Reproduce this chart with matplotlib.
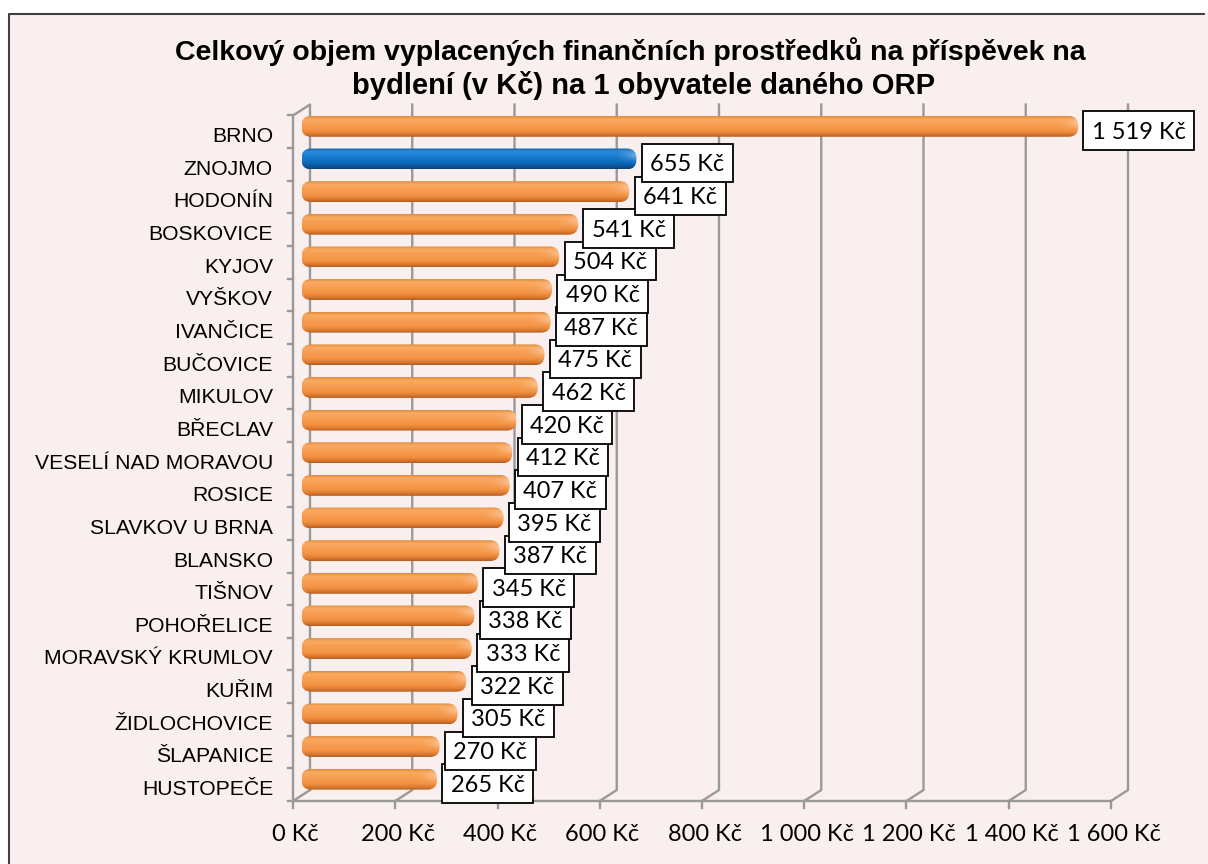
import numpy as np
import matplotlib
matplotlib.use("Agg")
import matplotlib.pyplot as plt
from matplotlib.patches import FancyBboxPatch, Rectangle
from matplotlib.lines import Line2D
from matplotlib.path import Path
from matplotlib.colors import LinearSegmentedColormap

# data
categories = ["BRNO", "ZNOJMO", "HODONÍN", "BOSKOVICE", "KYJOV", "VYŠKOV",
              "IVANČICE", "BUČOVICE", "MIKULOV", "BŘECLAV", "VESELÍ NAD MORAVOU",
              "ROSICE", "SLAVKOV U BRNA", "BLANSKO", "TIŠNOV", "POHOŘELICE",
              "MORAVSKÝ KRUMLOV", "KUŘIM", "ŽIDLOCHOVICE", "ŠLAPANICE", "HUSTOPEČE"]
values = [1519, 655, 641, 541, 504, 490, 487, 475, 462, 420, 412,
          407, 395, 387, 345, 338, 333, 322, 305, 270, 265]
highlight = "ZNOJMO"
x_ticks = [0, 200, 400, 600, 800, 1000, 1200, 1400, 1600]
x_tick_labels = ["0 Kč", "200 Kč", "400 Kč", "600 Kč", "800 Kč", "1 000 Kč",
                 "1 200 Kč", "1 400 Kč", "1 600 Kč"]
title_1 = "Celkový objem vyplacených finančních prostředků na příspěvek na"
title_2 = "bydlení (v Kč) na 1 obyvatele daného ORP"

W, H = 1208, 864
bg = "#f9efee"
grid_c = "#999999"

fig = plt.figure(figsize=(W / 100, H / 100), dpi=100)
fig.patch.set_facecolor("white")
fig.patch.set_edgecolor("none")

# chart area (runs off the right and bottom edge), border only left + top
fx, fy = 8.5 / W, 1 - 13.5 / H
fig.add_artist(Rectangle((fx, -0.1), 1.2, fy + 0.1, transform=fig.transFigure,
                         fc=bg, ec="none", zorder=0))
fig.add_artist(Line2D([fx, fx, 1.1], [-0.1, fy, fy], transform=fig.transFigure,
                      color="#404040", lw=1.5, zorder=0.5))
fig.add_artist(Line2D([1 - 1.5 / W] * 2, [-0.1, fy - 1.5 / H], transform=fig.transFigure,
                      color=bg, lw=3, zorder=0.6))

# axes = middle depth plane of the 3D plot
ax_l, ax_top, ax_w, ax_h = 301.5, 110, 818, 685.5
ax = fig.add_axes([ax_l / W, 1 - (ax_top + ax_h) / H, ax_w / W, ax_h / H])
ax.set_facecolor("none")
ax.set_axis_off()

n = len(categories)
y = np.arange(n)
xmax = x_ticks[-1]
ax.set_xlim(0, xmax)
ax.set_ylim(n - 0.5, -0.5)

# 3D depth offset (pixels) -> data units
ppx = ax_w / xmax
ppy = ax_h / n
dxd = 8.5 / ppx
dyd = 5.5 / ppy
ybot, ytop = n - 0.5, -0.5
lw = 1.7

# back wall gridlines with floor diagonals
for v in x_ticks[1:]:
    ax.plot([v - dxd, v + dxd, v + dxd], [ybot + dyd, ybot - dyd, ytop - dyd],
            color=grid_c, lw=lw, clip_on=False, zorder=1)
# left wall + floor front edge
ax.plot([dxd, dxd, -dxd, -dxd, xmax - dxd],
        [ybot - dyd, ytop - dyd, ytop + dyd, ybot + dyd, ybot + dyd],
        color=grid_c, lw=lw, clip_on=False, zorder=1)
ax.plot([-dxd, dxd], [ybot + dyd, ybot - dyd], color=grid_c, lw=lw,
        clip_on=False, zorder=1)
# tick marks on the front plane
for k in range(n + 1):
    ax.plot([-dxd - 5 / ppx, -dxd], [k - 0.5 + dyd] * 2, color=grid_c, lw=lw,
            clip_on=False, zorder=1)
for v in x_ticks:
    ax.plot([v - dxd] * 2, [ybot + dyd, ybot + dyd + 7 / ppy], color=grid_c,
            lw=lw, clip_on=False, zorder=1)

# cylinder-like bars: rounded patch filled with a vertical gradient
orange = LinearSegmentedColormap.from_list("o", [
    (0, "#e08a3c"), (0.15, "#faab63"), (0.35, "#f8a055"), (0.7, "#f39242"),
    (0.88, "#db782e"), (1, "#b05e22")])
blue = LinearSegmentedColormap.from_list("b", [
    (0, "#135fa6"), (0.15, "#2a8adc"), (0.35, "#1b7fd2"), (0.7, "#0b6bbb"),
    (0.9, "#0a5394"), (1, "#084276")])
grad = np.linspace(0, 1, 64).reshape(-1, 1)

# soft light spot on the rounded end of each cylinder
gy = np.linspace(-1, 1, 32).reshape(-1, 1)
gx = np.linspace(0, 1, 32).reshape(1, -1)
spot = np.zeros((32, 32, 4))
spot[..., :3] = 1.0
spot[..., 3] = 0.35 * np.clip(gx, 0, 1) ** 1.5 * np.exp(-((gy + 0.3) / 0.45) ** 2)

bars = ax.barh(y, values, height=0.64, color="none", edgecolor="none", zorder=2)
r_px = 9.5
rx = r_px / ppx
ma = (r_px / ppy) / rx
for cat, rect in zip(categories, bars):
    x0, y0, w, h = rect.get_x(), rect.get_y(), rect.get_width(), rect.get_height()
    patch = FancyBboxPatch((x0, y0), w, h,
                           boxstyle=f"round,pad=0,rounding_size={rx}",
                           mutation_aspect=ma, fc="none", ec="none", zorder=3)
    ax.add_patch(patch)
    cmap = blue if cat == highlight else orange
    im = ax.imshow(grad, cmap=cmap, extent=(x0, x0 + w, y0 + h, y0),
                   origin="upper", aspect="auto", interpolation="bicubic",
                   zorder=3)
    im.set_clip_path(patch)
    hl = ax.imshow(spot, extent=(x0 + w - 22 / ppx, x0 + w, y0 + h, y0),
                   origin="upper", aspect="auto", interpolation="bicubic",
                   zorder=3.1)
    hl.set_clip_path(patch)

ax.set_xlim(0, xmax)
ax.set_ylim(n - 0.5, -0.5)


def label_box(x0, y0, width, height, mutation_size):
    # pixels: narrower sides, box nudged up so the digits sit centred
    px, pt, pb = 8.5, 10.5, 7.0
    return Path([(x0 - px, y0 - pb), (x0 + width + px, y0 - pb),
                 (x0 + width + px, y0 + height + pt), (x0 - px, y0 + height + pt),
                 (x0 - px, y0 - pb)], closed=True)


# data labels
for i, v in enumerate(values):
    lab = f"{v:,}".replace(",", " ") + " Kč"
    ax.annotate(lab, xy=(v, i), xytext=(10, -4.3), textcoords="offset points",
                ha="left", va="center", fontsize=17, family="Lato",
                bbox=dict(boxstyle=label_box, fc="white", ec="black", lw=1.3),
                zorder=10 + (n - i) * 0.01, annotation_clip=False)

# category labels (front plane)
for i, c in enumerate(categories):
    ax.annotate(c, xy=(-dxd, i + dyd), xytext=(-14.4, -3.5), textcoords="offset points",
                ha="right", va="center", fontsize=15.2, family="Liberation Sans",
                annotation_clip=False)

# x tick labels (front plane)
for v, t in zip(x_ticks, x_tick_labels):
    ax.annotate(t, xy=(v - dxd, ybot + dyd), xytext=(2, -24), textcoords="offset points",
                ha="center", va="center", fontsize=17, family="Lato",
                annotation_clip=False)

fig.text(630.5 / W, 1 - 52 / H, title_1, ha="center", va="center", fontsize=20.5,
         fontweight="bold", family="Liberation Sans")
fig.text(643 / W, 1 - 86 / H, title_2, ha="center", va="center", fontsize=21,
         fontweight="bold", family="Liberation Sans")

fig.savefig("out.png", dpi=100)
